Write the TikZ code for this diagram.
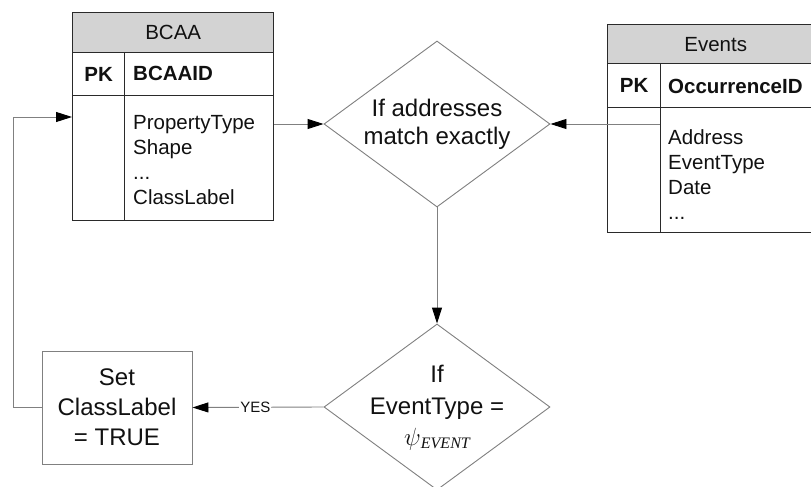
\documentclass[tikz,border=0pt]{standalone}
\usepackage{fontspec}
\setmainfont{Liberation Sans}
\newfontfamily\serifit{Liberation Serif}
\usetikzlibrary{arrows.meta,shapes.geometric}

\definecolor{hdrgray}{HTML}{D3D3D3}
\definecolor{tblline}{HTML}{2A2A2A}
\definecolor{flowline}{HTML}{808080}
\definecolor{inkblack}{HTML}{111111}

\tikzset{
  cell/.style={draw=tblline, line width=1.4pt, rectangle, inner sep=0pt, anchor=north west,
    text=inkblack, font=\fontsize{20.5}{25}\selectfont},
  hdrcell/.style={cell, fill=hdrgray},
  fieldtext/.style={anchor=west, inner sep=0pt, text=inkblack, align=left,
    font=\fontsize{20.5}{25}\selectfont},
  keytext/.style={anchor=west, inner sep=0pt, text=inkblack,
    font=\fontsize{20.5}{25}\selectfont\bfseries},
  decision/.style={diamond, draw=flowline, line width=0.9pt, inner sep=0pt,
    minimum width=226pt, minimum height=166pt},
  decisiontext/.style={align=center, inner sep=0pt, text=inkblack,
    font=\fontsize{24}{28}\selectfont},
  actionbox/.style={draw=flowline, line width=0.9pt, rectangle, inner sep=0pt,
    minimum width=150pt, minimum height=113pt, align=center, text=inkblack,
    font=\fontsize{24}{30}\selectfont},
  conn/.style={draw=flowline, line width=0.9pt,
    -{Triangle[length=16pt,width=10pt,fill=black,color=black]}},
  plainconn/.style={draw=flowline, line width=0.9pt},
}

\begin{document}
\begin{tikzpicture}[x=1pt,y=-1pt]
\useasboundingbox (0,0) rectangle (811,487);
\clip (0,0) rectangle (811,487);
\fill[white] (0,0) rectangle (811,487);

% ---- BCAA table ----
\node[hdrcell, minimum width=201pt, minimum height=40pt] (bcaaH) at (72,12) {BCAA};
\node[cell, minimum width=52pt, minimum height=43pt] (bcaaPK) at (72,52) {\bfseries PK};
\node[cell, minimum width=149pt, minimum height=43pt] (bcaaKeyCell) at (124,52) {};
\node[keytext] (bcaaKey) at (133,73.5) {BCAAID};
\node[cell, minimum width=52pt, minimum height=125pt] (bcaaL) at (72,95) {};
\node[cell, minimum width=149pt, minimum height=125pt] (bcaaF) at (124,95) {};
\node[fieldtext, anchor=north west] (bcaaFields) at (133,115)
  {PropertyType\\Shape\\...\\ClassLabel};

% ---- Events table ----
\node[hdrcell, minimum width=216pt, minimum height=39pt] (evH) at (607,24) {Events};
\node[cell, minimum width=53pt, minimum height=44pt] (evPK) at (607,63) {\bfseries PK};
\node[cell, minimum width=163pt, minimum height=44pt] (evKeyCell) at (660,63) {};
\node[keytext] (evKey) at (668,86) {OccurrenceID};
\node[cell, minimum width=53pt, minimum height=125pt] (evL) at (607,107) {};
\node[cell, minimum width=163pt, minimum height=125pt] (evF) at (660,107) {};
\node[fieldtext, anchor=north west] (evFields) at (668,129)
  {Address\\EventType\\Date\\...};

% ---- decisions ----
\node[decision] (d1) at (437,124) {};
\node[decisiontext] (d1text) at (437,124) {If addresses\\match exactly};

\node[decision] (d2) at (437,407) {};
\node[decisiontext, font=\fontsize{24}{32}\selectfont] (d2text) at (437,408)
  {If\\EventType =\\[-1pt]{\fontsize{26}{26}\selectfont$\psi$}{\serifit\itshape\fontsize{16}{16}\selectfont\raisebox{-3pt}{EVENT}}};

% ---- action ----
\node[actionbox] (setbox) at (117,407.5) {Set\\ClassLabel\\= TRUE};

% ---- connectors ----
\draw[conn] (bcaaF.east |- d1.west) -- (d1.west);
\draw[conn] (evF.west |- d1.east) -- (d1.east);
\draw[conn] (d1.south) -- (d2.north);
\draw[conn] (d2.west) -- node[pos=0.52, fill=white, inner sep=1pt, text=inkblack,
  font=\fontsize{15}{15}\selectfont] (yes) {YES} (setbox.east);
\coordinate (loopcorner) at (13,117);
\draw[plainconn] (setbox.west) -- (setbox.west -| loopcorner) -- (loopcorner);
\draw[conn] (loopcorner) -- (bcaaL.west |- loopcorner);
\end{tikzpicture}
\end{document}
